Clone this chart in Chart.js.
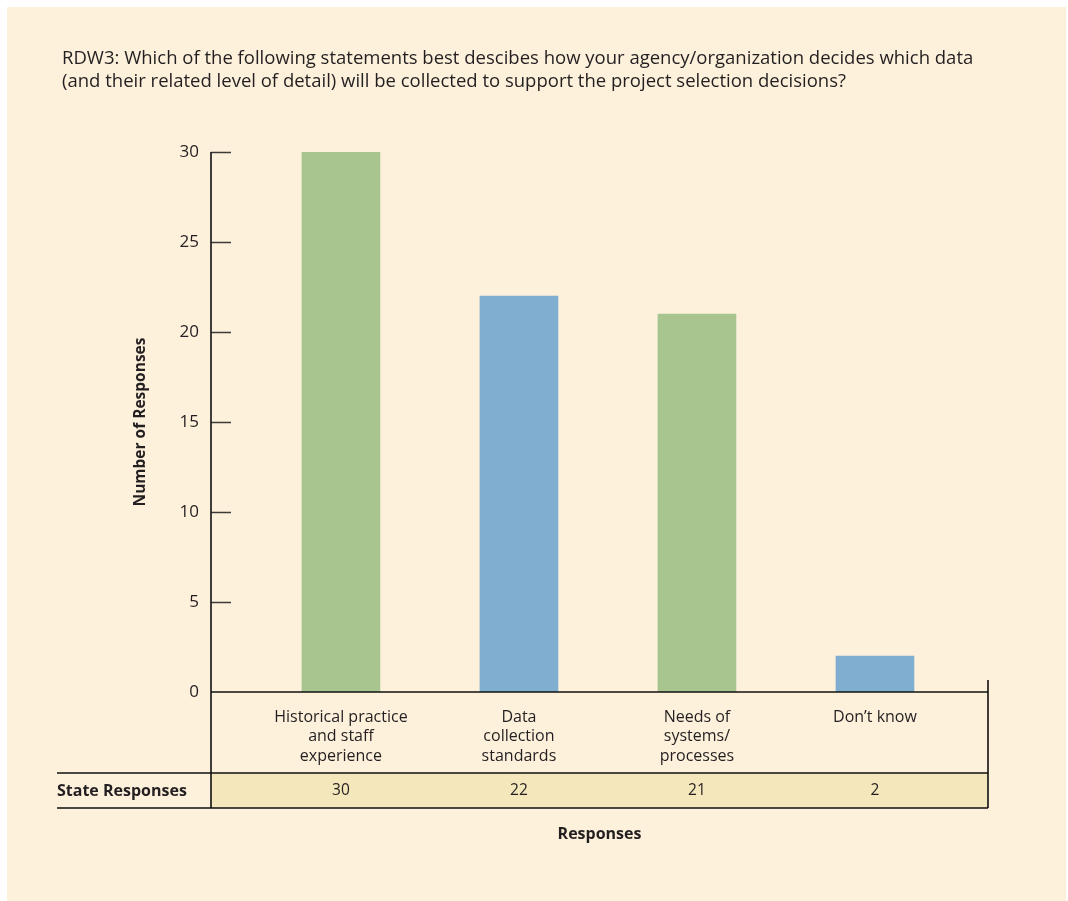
<!DOCTYPE html>
<html>
<head>
<meta charset="utf-8">
<script src="https://cdn.jsdelivr.net/npm/chart.js@4.4.1/dist/chart.umd.min.js"></script>
<style>
  html, body { margin: 0; padding: 0; background: #ffffff; }
  canvas { display: block; }
</style>
</head>
<body>
<canvas id="chart" width="1068" height="901"></canvas>
<script>
// Survey data
const categories = [
  ['Historical practice', 'and staff', 'experience'],
  ['Data', 'collection', 'standards'],
  ['Needs of', 'systems/', 'processes'],
  ["Don\u2019t know"]
];
const responses = [30, 22, 21, 2];
const barColors = ['#a8c58f', '#80aed0', '#a8c58f', '#80aed0'];
const yTicks = [0, 5, 10, 15, 20, 25, 30];
const titleLines = [
  'RDW3: Which of the following statements best descibes how your agency/organization decides which data',
  '(and their related level of detail) will be collected to support the project selection decisions?'
];
const tableRowLabel = 'State Responses';

const FONT = '"Open Sans", sans-serif';
const INK = '#231f20';
const PANEL = '#fdf1dc';
const TABLE_FILL = '#f3e7bb';

const decorPlugin = {
  id: 'decor',
  beforeDraw(chart) {
    const ctx = chart.ctx;
    ctx.save();
    ctx.fillStyle = '#ffffff';
    ctx.fillRect(0, 0, chart.width, chart.height);
    ctx.fillStyle = PANEL;
    ctx.fillRect(7, 7, 1059, 894);

    // Title
    ctx.fillStyle = INK;
    ctx.font = '18.5px ' + FONT;
    ctx.textAlign = 'left';
    ctx.textBaseline = 'middle';
    titleLines.forEach((t, i) => ctx.fillText(t, 62, 59 + i * 23));

    const area = chart.chartArea;
    // Table row fill
    ctx.fillStyle = TABLE_FILL;
    ctx.fillRect(area.left, 773, area.right - area.left, 35);
    ctx.restore();
  },
  afterDatasetsDraw(chart) {
    const ctx = chart.ctx;
    const area = chart.chartArea;
    const x = chart.scales.x;
    const y = chart.scales.y;
    ctx.save();
    // Inner tick marks on the value axis
    ctx.strokeStyle = '#3d3a3a';
    ctx.lineWidth = 1.5;
    y.ticks.forEach(t => {
      if (t.value === 0) return;
      const py = Math.round(y.getPixelForValue(t.value)) + 0.5;
      ctx.beginPath();
      ctx.moveTo(area.left, py);
      ctx.lineTo(area.left + 20, py);
      ctx.stroke();
    });

    ctx.strokeStyle = '#111111';
    ctx.lineWidth = 1.6;
    // Value axis line, running down through the table
    ctx.beginPath();
    ctx.moveTo(area.left, y.getPixelForValue(30));
    ctx.lineTo(area.left, 808);
    ctx.stroke();
    // Baseline
    ctx.beginPath();
    ctx.moveTo(area.left, area.bottom);
    ctx.lineTo(area.right, area.bottom);
    ctx.stroke();
    // Right edge
    ctx.beginPath();
    ctx.moveTo(area.right, area.bottom - 12);
    ctx.lineTo(area.right, 808);
    ctx.stroke();
    // Table rules
    ctx.beginPath();
    ctx.moveTo(57, 773);
    ctx.lineTo(area.right, 773);
    ctx.moveTo(57, 808);
    ctx.lineTo(area.right, 808);
    ctx.stroke();

    // Table text
    ctx.fillStyle = INK;
    ctx.textBaseline = 'middle';
    ctx.font = 'bold 16px ' + FONT;
    ctx.textAlign = 'left';
    ctx.fillText(tableRowLabel, 57, 791);
    ctx.font = '15.5px ' + FONT;
    ctx.textAlign = 'center';
    responses.forEach((v, i) => {
      ctx.fillText(String(v), x.getPixelForValue(i), 791);
    });
    ctx.restore();
  }
};

new Chart(document.getElementById('chart'), {
  type: 'bar',
  data: {
    datasets: [{
      data: responses.map((v, i) => ({ x: i, y: v })),
      backgroundColor: barColors,
      borderWidth: 0,
      barThickness: 78
    }]
  },
  options: {
    responsive: false,
    animation: false,
    devicePixelRatio: 1,
    layout: { padding: { left: 120, right: 80, top: 152, bottom: 49 } },
    plugins: {
      legend: { display: false },
      tooltip: { enabled: false }
    },
    scales: {
      x: {
        type: 'linear',
        offset: false,
        min: -0.73,
        max: 3.635,
        grid: { display: false, drawTicks: false },
        border: { display: false },
        afterFit(scale) { scale.height = 160; },
        afterBuildTicks(scale) { scale.ticks = categories.map((_, i) => ({ value: i })); },
        ticks: {
          autoSkip: false,
          maxRotation: 0,
          padding: 16,
          color: INK,
          font: { family: FONT, size: 16, lineHeight: 1.2 },
          callback: (value) => categories[value]
        },
        title: {
          display: true,
          text: 'Responses',
          color: INK,
          font: { family: FONT, size: 16, weight: 'bold', lineHeight: 1.2 },
          padding: { top: 0, bottom: 8 }
        }
      },
      y: {
        min: 0,
        max: 30,
        grid: { display: false, drawTicks: false },
        border: { display: false },
        afterFit(scale) { scale.width = 91; },
        afterBuildTicks(scale) { scale.ticks = yTicks.map(v => ({ value: v })); },
        ticks: {
          padding: 12,
          color: INK,
          font: { family: FONT, size: 17 }
        },
        title: {
          display: true,
          text: 'Number of Responses',
          color: INK,
          font: { family: FONT, size: 15.5, weight: 'bold', lineHeight: 1.2 },
          padding: { top: 11, bottom: 0 }
        }
      }
    }
  },
  plugins: [decorPlugin]
});
</script>
</body>
</html>
